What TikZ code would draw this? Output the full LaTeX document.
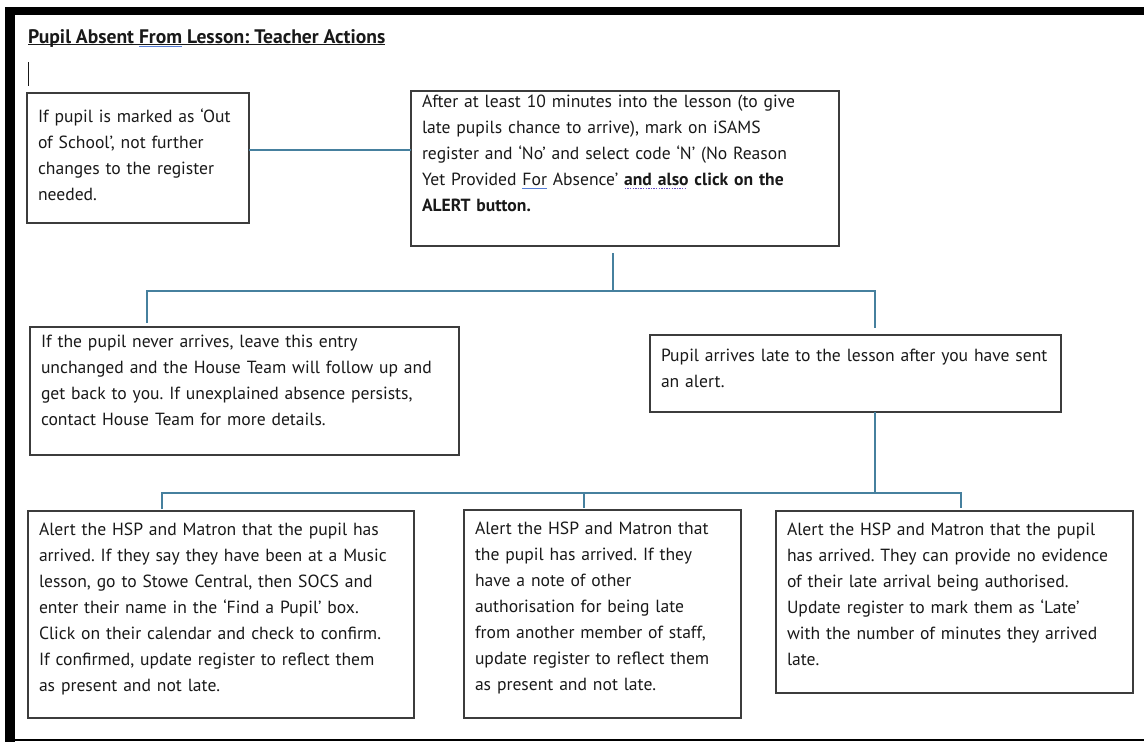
\documentclass[tikz,border=0pt]{standalone}
\usepackage{fontspec}
\setmainfont{PT Sans}
\definecolor{inkgray}{RGB}{25,25,25}
\definecolor{boxgray}{RGB}{60,60,60}
\definecolor{linkblue}{RGB}{70,128,158}
\definecolor{spellblue}{RGB}{85,125,215}
\definecolor{spellpurple}{RGB}{105,75,200}
% spelling / underline marks as Word shows them
\newcommand{\solidmark}[3]{\setbox0=\hbox{#3}\rlap{\color{#1}\rule[-#2]{\wd0}{0.9pt}}\box0\relax}
\newcommand{\dotmark}[1]{\setbox0=\hbox{#1}\rlap{\color{spellpurple}\hbox to\wd0{\leaders\hbox to 2.6pt{\hss\rule[-4pt]{1.3pt}{1.2pt}\hss}\hfill}}\box0\relax}
\frenchspacing

\begin{document}
\begin{tikzpicture}[x=1pt, y=-1pt,
  stepbox/.style={draw=boxgray, line width=1.3pt, anchor=north west, align=left,
    inner xsep=11pt, inner ysep=0pt, outer sep=0pt, text=inkgray,
    font=\fontsize{17.6}{26}\selectfont},
  link/.style={draw=linkblue, line width=1.3pt}]
\useasboundingbox (0,0) rectangle (1144,742);
% page frame
\fill[black] (5,7) rectangle (1144,15);
\fill[black] (5,7) rectangle (15,742);
\draw[black, line width=1.5pt] (15,740) -- (1144,740);

\node[anchor=base west, inner sep=0pt, text=inkgray, font=\bfseries\fontsize{19.6}{20}\selectfont] (title) at (28,43)
  {\solidmark{inkgray}{1.6pt}{Pupil Absent \solidmark{spellblue}{4pt}{From} Lesson: Teacher Actions}};
\draw[inkgray, line width=0.8pt] (28,62) -- (28,86);

\node[stepbox, text width=200pt, text height=29pt, text depth=101pt] (outschool) at (27,93)
  {If pupil is marked as ‘Out\\of School’, not further\\changes to the register\\needed.};
\node[stepbox, text width=406pt, text height=16pt, text depth=139pt] (alert) at (411,91)
  {After at least 10 minutes into the lesson (to give\\late pupils chance to arrive), mark on iSAMS\\register and ‘No’ and select code ‘N’ (No Reason\\Yet Provided \solidmark{spellblue}{3.5pt}{For} Absence’ \textbf{\dotmark{and also} click on the}\\\textbf{ALERT button.}};

\node[stepbox, text width=407pt, text height=20pt, text depth=108pt] (never) at (30,327)
  {If the pupil never arrives, leave this entry\\unchanged and the House Team will follow up and\\get back to you. If unexplained absence persists,\\contact House Team for more details.};
\node[stepbox, text width=389pt, text height=26pt, text depth=51pt] (late) at (650,335)
  {Pupil arrives late to the lesson after you have sent\\an alert.};

\node[stepbox, text width=364pt, text height=24pt, text depth=183pt] (music) at (28,511)
  {Alert the HSP and Matron that the pupil has\\arrived. If they say they have been at a Music\\lesson, go to Stowe Central, then SOCS and\\enter their name in the ‘Find a Pupil’ box.\\Click on their calendar and check to confirm.\\If confirmed, update register to reflect them\\as present and not late.};
\node[stepbox, text width=255pt, text height=24pt, text depth=184pt] (note) at (464,510)
  {Alert the HSP and Matron that\\the pupil has arrived. If they\\have a note of other\\authorisation for being late\\from another member of staff,\\update register to reflect them\\as present and not late.};
\node[stepbox, text width=335pt, text height=24pt, text depth=158pt] (nolate) at (776,511)
  {Alert the HSP and Matron that the pupil\\has arrived. They can provide no evidence\\of their late arrival being authorised.\\Update register to mark them as ‘Late’\\with the number of minutes they arrived\\late.};

% connectors
\coordinate (side) at (330,150);
\draw[link] (side -| outschool.east) -- (side -| alert.west);
\coordinate (up) at (613,291);
\draw[link, shorten <=7pt] (up |- alert.south) -- (up);
\coordinate (upl) at (147,291);
\coordinate (upr) at (875,291);
\draw[link, shorten <=4pt, shorten >=7pt] (upl |- never.north) -- (upl) -- (upr) -- (upr |- late.north);
\coordinate (down) at (875,493);
\draw[link] (down |- late.south) -- (down);
\coordinate (downl) at (162,493);
\coordinate (downm) at (584,493);
\coordinate (downr) at (961,493);
\draw[link, shorten <=2pt, shorten >=3pt] (downl |- music.north) -- (downl) -- (downr) -- (downr |- nolate.north);
\draw[link, shorten >=2pt] (downm) -- (downm |- note.north);
\end{tikzpicture}
\end{document}
